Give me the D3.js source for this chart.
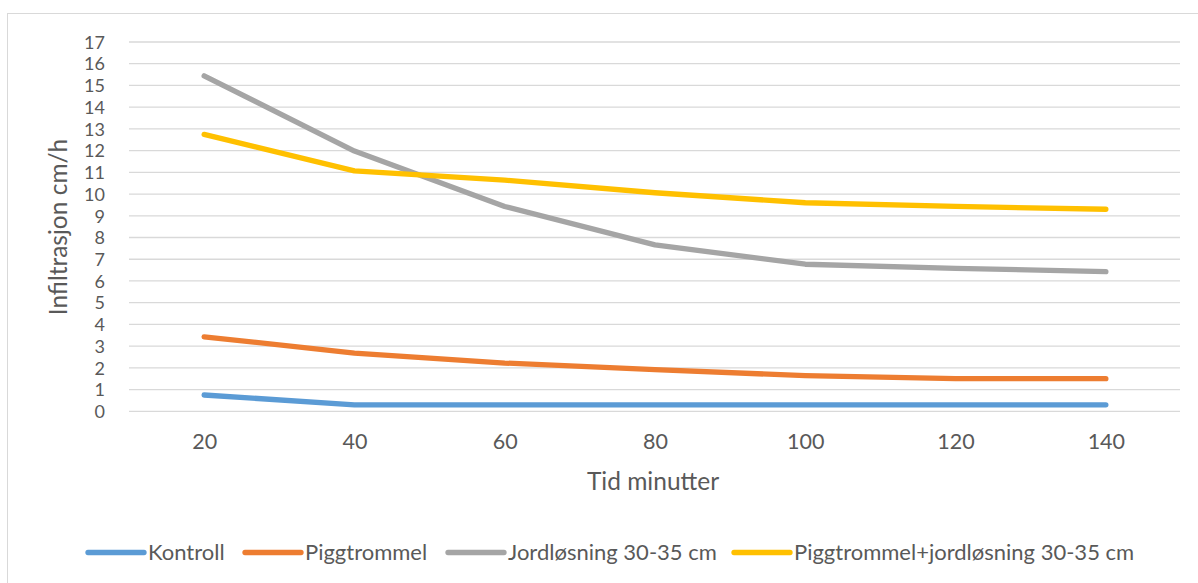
<!DOCTYPE html>
<html>
<head>
<meta charset="utf-8">
<script src="https://cdn.jsdelivr.net/npm/d3@7"></script>
<style>
  html, body { margin: 0; padding: 0; background: #fff; }
  svg { display: block; }
  text { font-family: Lato, "Open Sans", sans-serif; fill: #595959; }
</style>
</head>
<body>
<svg id="chart" width="1198" height="583"></svg>
<script>
// Infiltration rate (cm/h) over time for four soil treatments
const categories = ["20", "40", "60", "80", "100", "120", "140"];
const kontroll = [0.75, 0.3, 0.3, 0.3, 0.3, 0.3, 0.3];
const piggtrommel = [3.43, 2.68, 2.22, 1.92, 1.64, 1.5, 1.5];
const jordlosning = [15.44, 11.98, 9.43, 7.66, 6.77, 6.58, 6.43];
const piggJord = [12.75, 11.07, 10.64, 10.06, 9.6, 9.43, 9.3];
const yTicks = d3.range(0, 18);

const seriesNames = ["Kontroll", "Piggtrommel", "Jordløsning 30-35 cm", "Piggtrommel+jordløsning 30-35 cm"];
const seriesValues = [kontroll, piggtrommel, jordlosning, piggJord];
const colors = ["#5B9BD5", "#ED7D31", "#A5A5A5", "#FFC000"];

const svg = d3.select("#chart");

// chart frame
svg.append("rect")
  .attr("x", 7.5).attr("y", 13.5)
  .attr("width", 1300).attr("height", 700)
  .attr("fill", "#fff").attr("stroke", "#d9d9d9").attr("stroke-width", 1);

const plotLeft = 129, plotRight = 1181;
const x = d3.scalePoint().domain(categories).range([plotLeft, plotRight]).padding(0.5);
const y = d3.scaleLinear().domain([0, 17]).range([411.3, 42]);

// horizontal gridlines
svg.append("g").selectAll("line").data(yTicks).join("line")
  .attr("x1", plotLeft).attr("x2", plotRight - 1)
  .attr("y1", d => y(d)).attr("y2", d => y(d))
  .attr("stroke", "#d9d9d9").attr("stroke-width", 1.3);

// y axis labels (tight spacing, so a compact size)
const yAxis = d3.axisLeft(y).tickValues(yTicks).tickSize(0).tickPadding(0).tickFormat(d3.format("d"));
const gy = svg.append("g").attr("transform", "translate(105,0.5)").call(yAxis);
gy.select(".domain").remove();
gy.selectAll("text").attr("font-size", 18).attr("font-family", "Lato, sans-serif").attr("fill", "#595959");

// x axis labels
const xAxis = d3.axisBottom(x).tickSize(0).tickPadding(0);
const gx = svg.append("g").attr("transform", "translate(0,434)").call(xAxis);
gx.select(".domain").remove();
gx.selectAll("text").attr("font-size", 21.5).attr("font-family", "Lato, sans-serif").attr("fill", "#595959");

// axis titles
svg.append("text")
  .attr("x", 653).attr("y", 490)
  .attr("text-anchor", "middle").attr("font-size", 24.5)
  .text("Tid minutter");
svg.append("text")
  .attr("transform", "translate(67,227) rotate(-90)")
  .attr("text-anchor", "middle").attr("font-size", 24.5)
  .text("Infiltrasjon cm/h");

// series lines
const line = d3.line().x((d, i) => x(categories[i])).y(d => y(d));
svg.append("g").selectAll("path").data(seriesValues).join("path")
  .attr("d", d => line(d))
  .attr("fill", "none")
  .attr("stroke", (d, i) => colors[i])
  .attr("stroke-width", 5.3)
  .attr("stroke-linecap", "round")
  .attr("stroke-linejoin", "round");

// legend
const legendX = [88, 245, 448, 734];
const legend = svg.append("g").selectAll("g").data(seriesNames).join("g")
  .attr("transform", (d, i) => `translate(${legendX[i]},552.5)`);
legend.append("line")
  .attr("x1", 0).attr("x2", 56).attr("y1", 0).attr("y2", 0)
  .attr("stroke", (d, i) => colors[i])
  .attr("stroke-width", 5.3)
  .attr("stroke-linecap", "round");
legend.append("text")
  .attr("x", 60).attr("y", 7.5)
  .attr("font-size", 22)
  .text(d => d);
</script>
</body>
</html>
